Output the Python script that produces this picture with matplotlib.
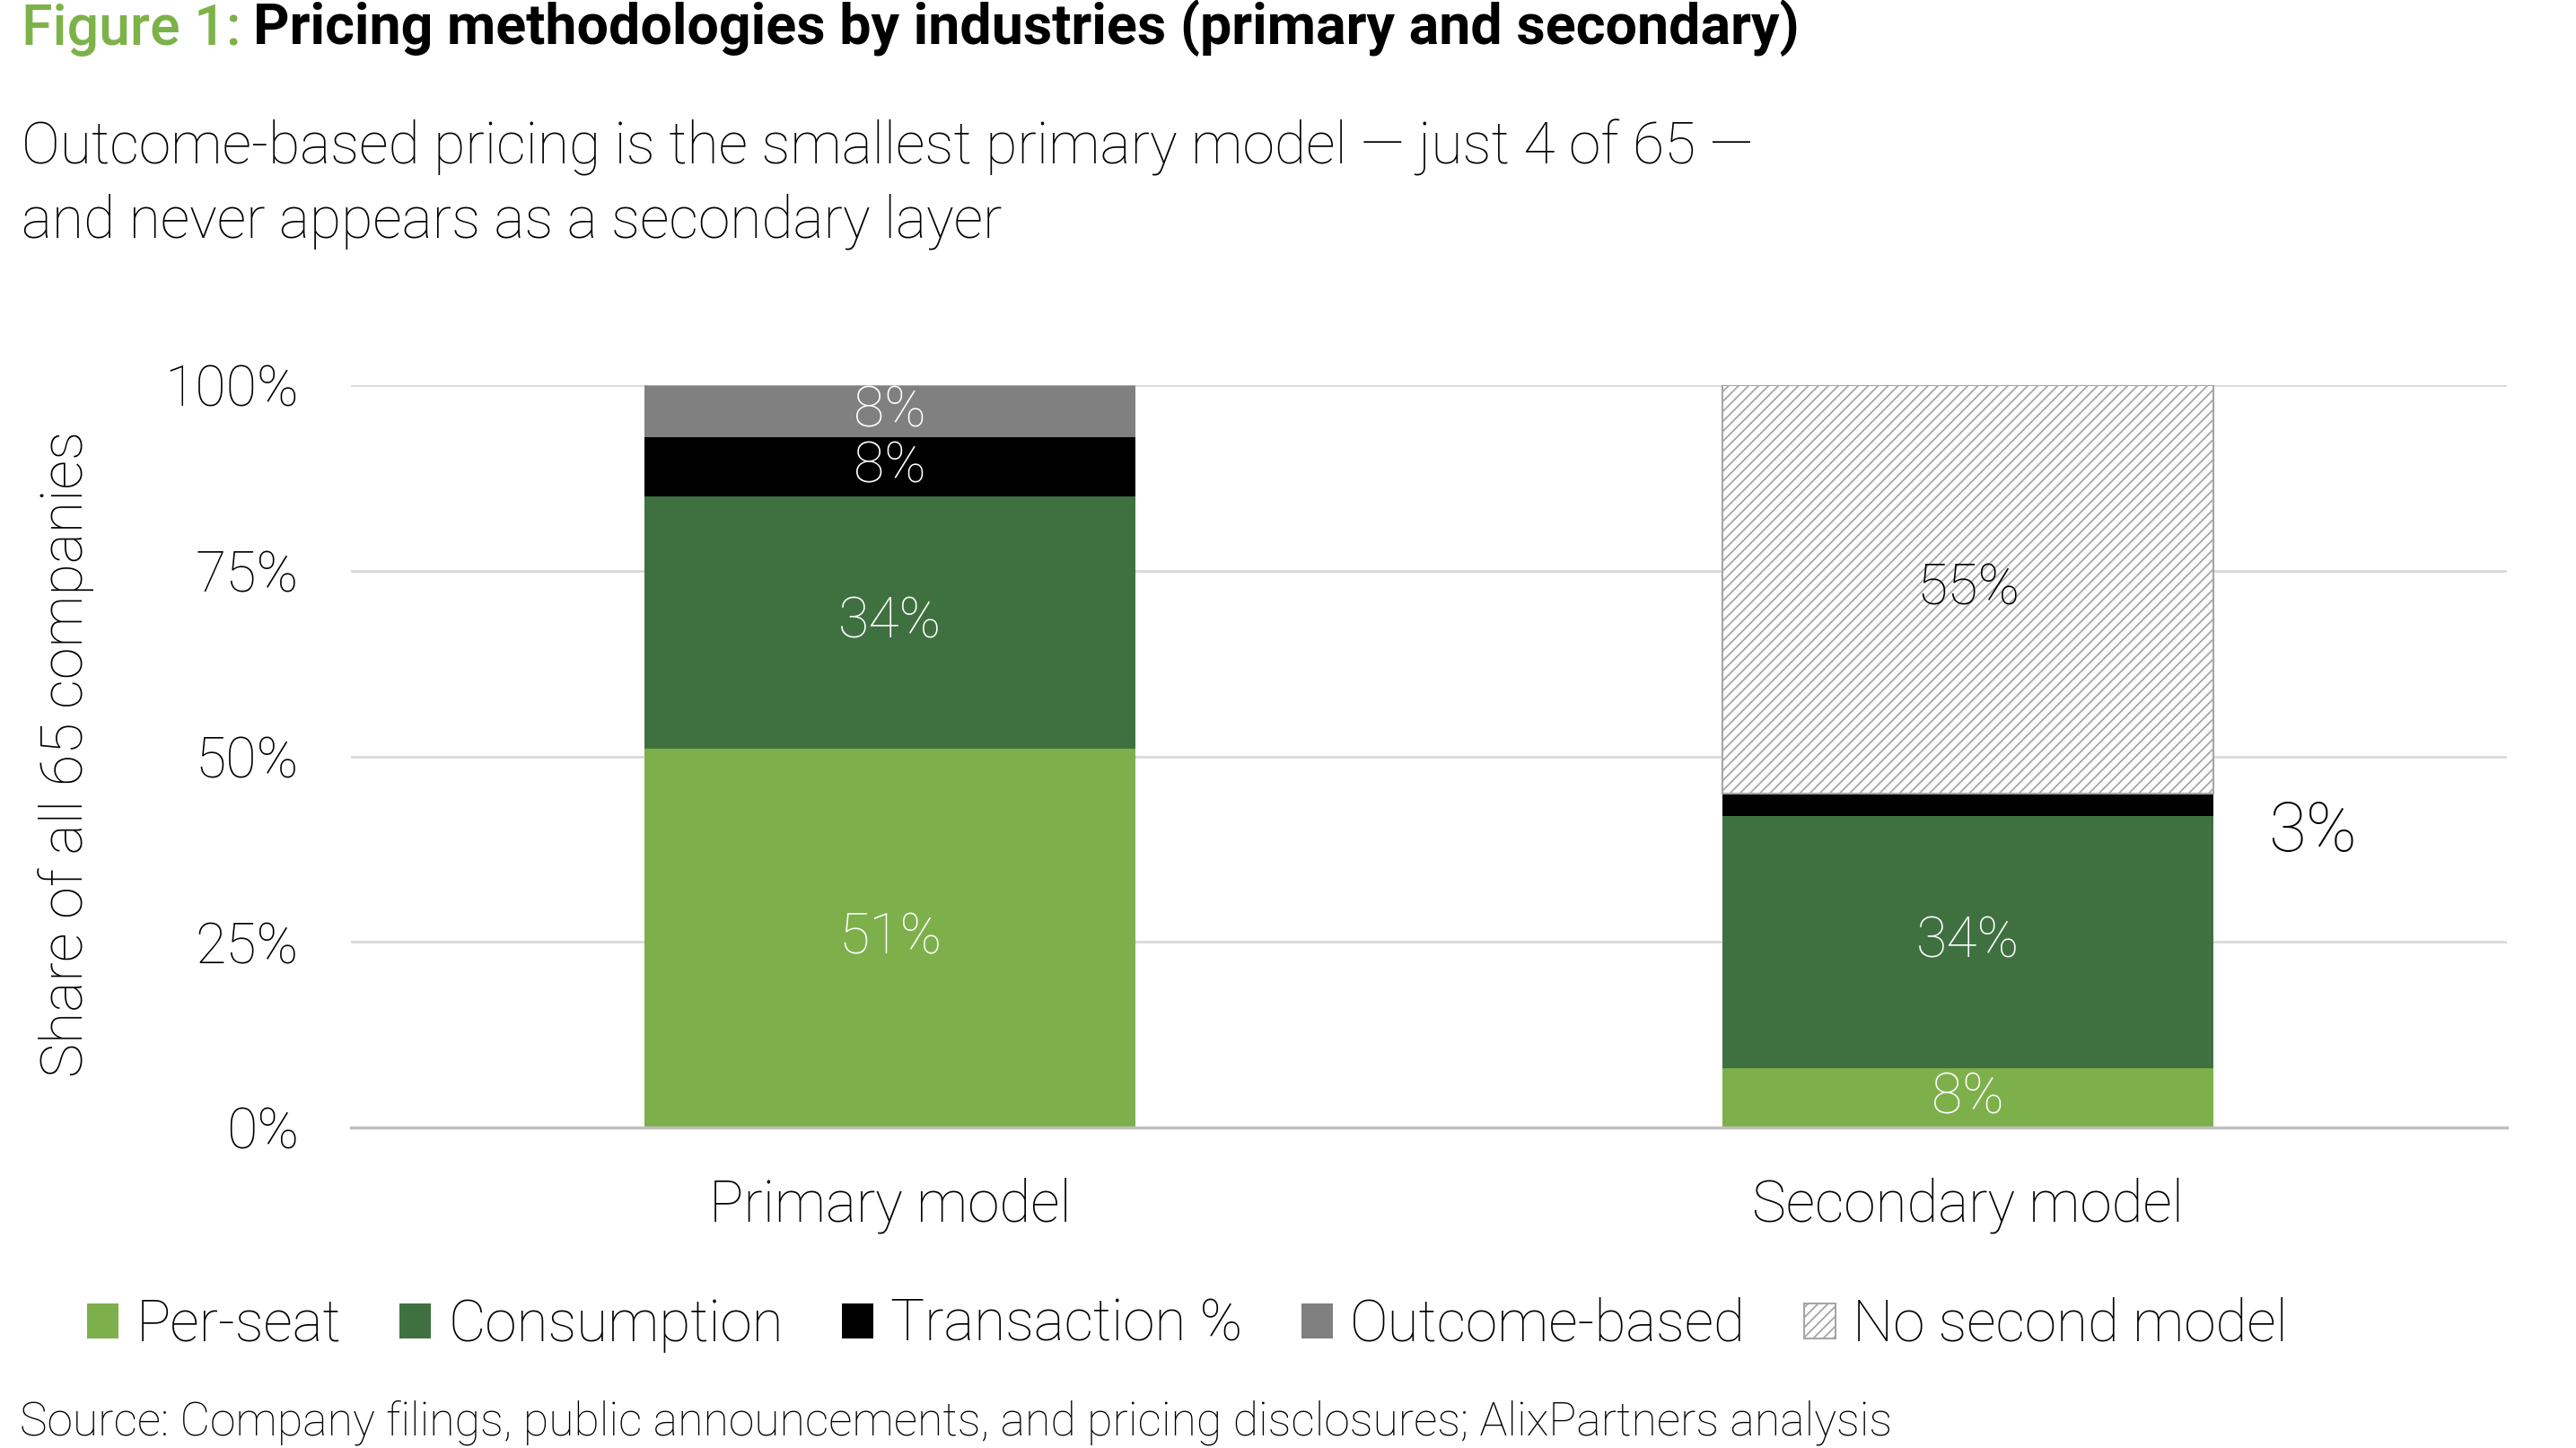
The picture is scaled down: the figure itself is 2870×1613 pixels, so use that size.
import numpy as np
import matplotlib.pyplot as plt
from matplotlib.patches import Patch

plt.rcParams['font.family'] = ['Roboto', 'DejaVu Sans']
plt.rcParams['hatch.linewidth'] = 1.3

# data (share of all 65 companies, %)
models = ['Primary model', 'Secondary model']
series = ['Per-seat', 'Consumption', 'Transaction %', 'Outcome-based', 'No second model']
per_seat = [51, 8]
consumption = [34, 34]
transaction = [8, 3]
outcome = [7, 0]
no_second = [0, 55]
seg_labels = [['51%', '8%'], ['34%', '34%'], ['8%', '3%'], ['8%', ''], ['', '55%']]
yticks = [0, 25, 50, 75, 100]

colors = ['#7DB04B', '#3F7140', '#000000', '#808080', '#FFFFFF']
txt_colors = ['white', 'white', 'white', 'white', 'black']

W, H = 2870, 1613
fig = plt.figure(figsize=(W / 100, H / 100), dpi=100)
fig.patch.set_facecolor('white')
ax = fig.add_axes([391 / W, 1 - 1256 / H, (2793 - 391) / W, (1256 - 429) / H])

x = np.arange(len(models))
width = 0.455
bottom = np.zeros(len(models))
handles = []
for i, vals in enumerate([per_seat, consumption, transaction, outcome, no_second]):
    vals = np.array(vals, dtype=float)
    if series[i] == 'No second model':
        ax.bar(x, vals, width, bottom=bottom, color='white', edgecolor='#A6A6A6',
               hatch='///', linewidth=1.5, zorder=3)
        handles.append(Patch(facecolor='white', edgecolor='#A6A6A6', hatch='///',
                             linewidth=1.5, label=series[i]))
    else:
        ax.bar(x, vals, width, bottom=bottom, color=colors[i], linewidth=0, zorder=3)
        handles.append(Patch(facecolor=colors[i], linewidth=0, label=series[i]))
    for j in range(len(models)):
        lab = seg_labels[i][j]
        if not lab or vals[j] == 0:
            continue
        if vals[j] < 5:
            # too thin, label sits to the right of the bar
            ax.text(x[j] + 0.32, 39.7, lab, ha='center', va='center',
                    fontsize=55, fontweight='light', color='black', zorder=4)
        else:
            ax.text(x[j], bottom[j] + vals[j] / 2, lab, ha='center', va='center',
                    fontsize=45, fontweight='light', color=txt_colors[i], zorder=4)
    bottom += vals

ax.set_xlim(-0.5, 1.5)
ax.set_ylim(0, 100)
ax.set_yticks(yticks)
ax.set_yticklabels([f'{t}%' for t in yticks], fontsize=45, fontweight='light')
ax.set_xticks(x)
ax.set_xticklabels(models, fontsize=46, fontweight='light')
ax.tick_params(axis='y', length=0, pad=42)
ax.tick_params(axis='x', length=0, pad=40)
ax.grid(axis='y', color='#D9D9D9', linewidth=2, zorder=0)
ax.set_axisbelow(True)
for s in ['top', 'right', 'left']:
    ax.spines[s].set_visible(False)
ax.spines['bottom'].set_color('#BFBFBF')
ax.spines['bottom'].set_linewidth(2.5)
ax.spines['bottom'].set_zorder(5)

fig.text(74 / W, 1 - 840 / H, 'Share of all 65 companies', rotation=90,
         ha='center', va='center', fontsize=46.5, fontweight='light')

# title and subtitle
t1 = fig.text(24 / W, 1 - 50 / H, 'Figure 1:', fontsize=45.2, color='#7DB249',
              fontweight='medium', va='baseline', ha='left')
ax.annotate('Pricing methodologies by industries (primary and secondary)',
            xy=(1, 0), xycoords=t1, xytext=(10, 0), textcoords='offset points',
            fontsize=45.2, fontweight='bold', va='bottom', ha='left')
fig.text(24 / W, 1 - 182 / H,
         'Outcome-based pricing is the smallest primary model \u2014 just 4 of 65 \u2014',
         fontsize=46.3, fontweight='light', va='baseline')
fig.text(24 / W, 1 - 265 / H, 'and never appears as a secondary layer',
         fontsize=46.3, fontweight='light', va='baseline')

ax.legend(handles=handles, loc='center left', bbox_to_anchor=(97 / W, 1 - 1476 / H),
          bbox_transform=fig.transFigure, ncol=5, frameon=False,
          prop={'size': 46, 'weight': 'light'}, handlelength=0.55, handleheight=0.55,
          handletextpad=0.3, columnspacing=1.02, borderpad=0, borderaxespad=0)

fig.text(22 / W, 1 - 1598 / H,
         'Source: Company filings, public announcements, and pricing disclosures; AlixPartners analysis',
         fontsize=37.3, fontweight='light', va='baseline')

fig.savefig('out.png', dpi=100, facecolor='white')
